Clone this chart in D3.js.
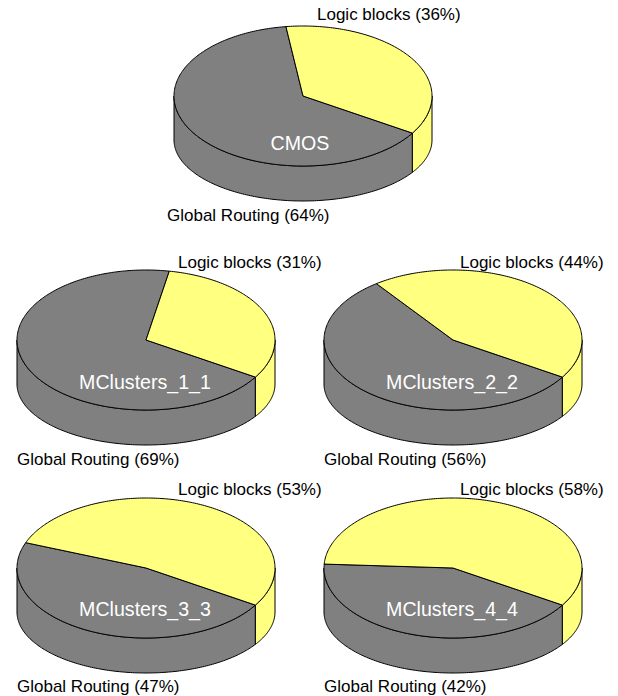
<!DOCTYPE html>
<html>
<head>
<meta charset="utf-8">
<script src="https://cdn.jsdelivr.net/npm/d3@7"></script>
<style>
  body { margin: 0; background: #fff; }
  text { font-family: "Liberation Sans", Arial, sans-serif; }
</style>
</head>
<body>
<script>
// data
const charts = ['CMOS', 'MClusters_1_1', 'MClusters_2_2', 'MClusters_3_3', 'MClusters_4_4'];
const categories = ['Global Routing', 'Logic blocks'];
const globalRouting = [64, 69, 56, 47, 42];
const logicBlocks = [36, 31, 44, 53, 58];
const colors = ['#808080', '#ffff80'];

// layout of each pie (centre of top face, label anchors)
const layout = [
  { cx: 303, cy: 96, title: [300, 143], logic: [317, 14], routing: [167, 215] },
  { cx: 146, cy: 340, title: [145, 382], logic: [178, 262], routing: [17, 459] },
  { cx: 453, cy: 340, title: [452, 382], logic: [460, 262], routing: [324, 459] },
  { cx: 146, cy: 568, title: [145, 609], logic: [178, 489], routing: [17, 686] },
  { cx: 453, cy: 568, title: [452, 609], logic: [460, 489], routing: [324, 686] }
];

const rx = 129, ry = 70, depth = 44, ryBottom = 61;
const rad = d => d * Math.PI / 180;

const svg = d3.select('body').append('svg')
  .attr('width', 618)
  .attr('height', 696);

const pie = d3.pie()
  .sort(null)
  .startAngle(rad(122))
  .endAngle(rad(122 + 360));

const line = d3.line();

function samples(a0, a1) {
  const n = Math.max(2, Math.ceil(Math.abs(a1 - a0) / rad(1)));
  return d3.range(n + 1).map(i => a0 + (a1 - a0) * i / n);
}

charts.forEach((name, i) => {
  const L = layout[i];
  const top = a => [L.cx + rx * Math.sin(a), L.cy - ry * Math.cos(a)];
  const bot = a => [L.cx + rx * Math.sin(a), L.cy + depth - ryBottom * Math.cos(a)];
  const arcs = pie([globalRouting[i], logicBlocks[i]]);
  const g = svg.append('g');

  // side walls (front half only)
  const fronts = [[rad(90), rad(270)], [rad(450), rad(630)]];
  arcs.forEach((d, k) => {
    fronts.forEach(([f0, f1]) => {
      const a0 = Math.max(d.startAngle, f0), a1 = Math.min(d.endAngle, f1);
      if (a1 <= a0) return;
      const pts = samples(a0, a1).map(top).concat(samples(a0, a1).reverse().map(bot));
      g.append('path')
        .attr('d', line(pts) + 'Z')
        .attr('fill', colors[k])
        .attr('stroke', '#000')
        .attr('stroke-width', 1)
        .attr('stroke-linejoin', 'round');
    });
  });

  // top faces
  arcs.forEach((d, k) => {
    const pts = [[L.cx, L.cy]].concat(samples(d.startAngle, d.endAngle).map(top));
    g.append('path')
      .attr('d', line(pts) + 'Z')
      .attr('fill', colors[k])
      .attr('stroke', '#000')
      .attr('stroke-width', 1)
      .attr('stroke-linejoin', 'round');
  });

  g.append('text')
    .attr('x', L.title[0])
    .attr('y', L.title[1])
    .attr('text-anchor', 'middle')
    .attr('dominant-baseline', 'central')
    .attr('font-size', '19.6px')
    .attr('fill', '#fff')
    .text(name);

  g.append('text')
    .attr('x', L.logic[0])
    .attr('y', L.logic[1])
    .attr('dominant-baseline', 'central')
    .attr('font-size', '17px')
    .text(`${categories[1]} (${logicBlocks[i]}%)`);

  g.append('text')
    .attr('x', L.routing[0])
    .attr('y', L.routing[1])
    .attr('dominant-baseline', 'central')
    .attr('font-size', '17px')
    .text(`${categories[0]} (${globalRouting[i]}%)`);
});
</script>
</body>
</html>
